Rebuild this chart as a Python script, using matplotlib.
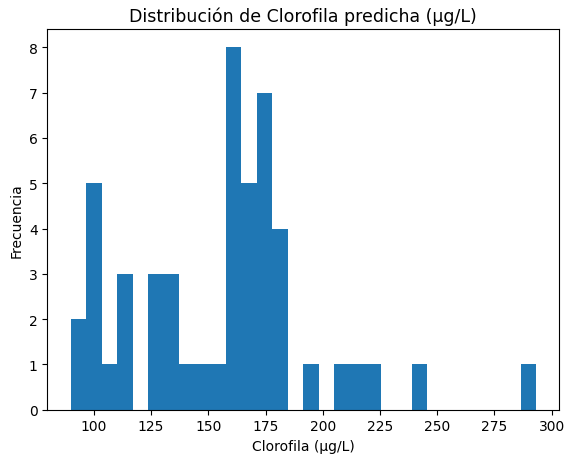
import matplotlib
matplotlib.use("Agg")
import matplotlib.pyplot as plt

clorofila = [
    89.8, 94.5,
    98.2, 99.5, 100.8, 101.9, 103.0,
    107.3,
    111.5, 113.8, 116.0,
    125.4, 127.9, 129.6,
    132.1, 134.6, 136.5,
    140.8,
    147.5,
    154.3,
    158.5, 159.4, 160.2, 161.0, 161.9, 162.7, 163.5, 164.1,
    165.4, 166.9, 168.2, 169.5, 170.8,
    172.0, 173.1, 174.0, 175.2, 176.1, 177.0, 177.6,
    179.3, 181.0, 182.6, 184.0,
    195.0,
    208.4,
    215.2,
    222.0,
    242.3,
    293.2,
]

fig = plt.figure(figsize=(5.65, 4.6), dpi=100)
ax = fig.add_axes([47.3/565, 49.3/460, 512/565, 380.5/460])
ax.hist(clorofila, bins=30, color="#1f77b4")
ax.set_title("Distribución de Clorofila predicha (µg/L)", fontsize=12.5)
ax.set_xlabel("Clorofila (µg/L)")
ax.set_ylabel("Frecuencia")
fig.savefig("out.png", dpi=100)
